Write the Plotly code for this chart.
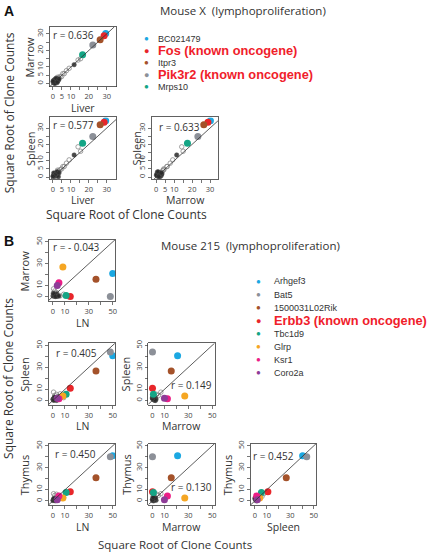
import plotly.graph_objects as go

W, H = 427, 553

# ---------------- Panel A data: Mouse X (square root of clone counts) ----------------
a_genes = ["BC021479", "Fos (known oncogene)", "Itpr3", "Pik3r2 (known oncogene)", "Mrps10"]
a_colors = ["#1BA8E2", "#E8262A", "#A4522A", "#8C9098", "#14A585"]
a_oncogene = [False, True, False, True, False]
a_liver = [29.4, 28.5, 26.3, 22.2, 16.5]
a_marrow = [30.2, 28.8, 26.5, 23.2, 17.4]
a_spleen = [34.5, 33.5, 32.0, 24.8, 20.7]
a_r = ["r = 0.636", "r = 0.577", "r = 0.633"]

# background clones (dark = filled, open = hollow circles)
a_dark_liver = [0.2, 0.5, 0.8, 1.0, 1.2, 1.5, 1.8, 2.0, 2.3, 2.6, 3.0, 0.4, 1.1, 0.0, 1.7, 2.4, 11.8, 3.4]
a_dark_marrow = [0.5, 1.2, 0.3, 1.8, 2.6, 0.9, 1.5, 2.2, 0.6, 2.9, 1.9, 2.0, 0.1, 1.4, 3.2, 1.0, 11.4, 2.8]
a_dark_spleen = [0.8, 0.3, 1.5, 2.2, 0.6, 1.8, 2.6, 1.0, 3.0, 1.4, 0.2, 2.5, 1.2, 0.5, 2.0, 3.3, 13.5, 2.6]
a_open_liver = [3.2, 4.0, 4.8, 6.3, 7.5, 9.0, 14.0, 15.4, 2.5, 5.5]
a_open_marrow = [3.6, 4.3, 4.2, 6.0, 7.8, 9.2, 14.2, 15.0, 3.8, 6.0]
a_open_spleen = [3.8, 4.6, 5.0, 6.5, 8.5, 10.5, 18.5, 15.8, 4.2, 6.4]

# ---------------- Panel B data: Mouse 215 ----------------
b_genes = ["Arhgef3", "Bat5", "1500031L02Rik", "Erbb3 (known oncogene)", "Tbc1d9", "Glrp", "Ksr1", "Coro2a"]
b_colors = ["#1BA8E2", "#8C9098", "#A4522A", "#E8262A", "#14A585", "#F5A623", "#EC1E86", "#8E3C97"]
b_oncogene = [False, False, False, True, False, False, False, False]
b_ln = [50.0, 48.0, 36.0, 14.5, 11.0, 8.3, 5.0, 3.6]
b_marrow = [21.0, 0.0, 15.7, 0.0, 0.8, 27.0, 12.5, 10.0]
b_spleen = [40.5, 44.0, 26.6, 11.0, 5.5, 4.0, 1.5, 2.0]
b_thymus = [41.0, 40.0, 21.0, 8.3, 7.5, 2.5, 4.5, 1.0]
b_r = ["r = - 0.043", "r = 0.405", "r = 0.149", "r = 0.450", "r = 0.130", "r = 0.452"]

b_dark_ln = [0.0, 0.5, 1.0, 1.5, 2.0, 2.5, 3.0, 0.3, 1.2, 3.5, 4.0, 0.8, 2.2, 5.0]
b_dark_marrow = [0.5, 1.5, 0.2, 2.0, 1.0, 0.0, 2.5, 3.0, 0.8, 1.2, 0.3, 2.2, 0.0, 0.5]
b_dark_spleen = [1.0, 0.2, 2.0, 0.5, 1.5, 2.5, 0.0, 1.2, 3.0, 0.8, 2.2, 0.4, 1.8, 3.5]
b_dark_thymus = [0.3, 1.5, 0.8, 2.0, 0.0, 1.2, 2.5, 0.5, 1.8, 3.0, 0.6, 2.2, 1.0, 3.3]
b_open_ln = [0.5, 9.0, 1.5, 6.0, 3.0]
b_open_marrow = [7.0, 2.0, 5.0, 0.5, 3.5]
b_open_spleen = [7.5, 2.5, 4.5, 6.0, 5.5]
b_open_thymus = [6.5, 3.0, 5.0, 4.0, 6.0]

# ---------------- layout helpers ----------------
def px_x(p):
    return p / W

def px_y(p):
    return 1 - p / H

A_TICKS = [0, 5, 10, 15, 20, 25, 30]
A_TEXT = ["0", "5", "10", "", "20", "", "30"]
B_TICKS = [0, 10, 20, 30, 40, 50]
B_TEXT = ["0", "10", "", "30", "", "50"]

AX_FONT = "Open Sans, Lato, sans-serif"
LEG_FONT = "Liberation Sans, Arial, sans-serif"

panels = [
    dict(x=a_liver, y=a_marrow, bgx=(a_dark_liver, a_open_liver), bgy=(a_dark_marrow, a_open_marrow),
         colors=a_colors, frame=(50, 117, 24, 84), xr=[-1.8, 35.4], yr=[-1.8, 34.2],
         tv=A_TICKS, tt=A_TEXT, xt="Liver", yt="Marrow", r=a_r[0], rp=(74, 32), off=(20, 21.5)),
    dict(x=a_liver, y=a_spleen, bgx=(a_dark_liver, a_open_liver), bgy=(a_dark_spleen, a_open_spleen),
         colors=a_colors, frame=(50, 117, 115, 177), xr=[-1.8, 35.4], yr=[-1.2, 36.5],
         tv=A_TICKS, tt=A_TEXT, xt="Liver", yt="Spleen", r=a_r[1], rp=(74, 123), off=(20, 21.5)),
    dict(x=a_marrow, y=a_spleen, bgx=(a_dark_marrow, a_open_marrow), bgy=(a_dark_spleen, a_open_spleen),
         colors=a_colors, frame=(153, 219, 115, 177), xr=[-2.2, 34.4], yr=[-1.2, 36.5],
         tv=A_TICKS, tt=A_TEXT, xt="Marrow", yt="Spleen", r=a_r[2], rp=(180, 125), off=(16, 21.5)),
    dict(x=b_ln, y=b_marrow, bgx=(b_dark_ln, b_open_ln), bgy=(b_dark_marrow, b_open_marrow),
         colors=b_colors, frame=(49, 116, 238, 300), xr=[-3.5, 52.3], yr=[-4.5, 52],
         tv=B_TICKS, tt=B_TEXT, xt="LN", yt="Marrow", r=b_r[0], rp=(77, 245), off=(24, 22)),
    dict(x=b_ln, y=b_spleen, bgx=(b_dark_ln, b_open_ln), bgy=(b_dark_spleen, b_open_spleen),
         colors=b_colors, frame=(49, 116, 342, 404), xr=[-3.5, 52.3], yr=[-4, 52],
         tv=B_TICKS, tt=B_TEXT, xt="LN", yt="Spleen", r=b_r[1], rp=(77, 352), off=(24, 21.5)),
    dict(x=b_marrow, y=b_spleen, bgx=(b_dark_marrow, b_open_marrow), bgy=(b_dark_spleen, b_open_spleen),
         colors=b_colors, frame=(149, 216, 342, 404), xr=[-3.5, 52.3], yr=[-4, 52],
         tv=B_TICKS, tt=B_TEXT, xt="Marrow", yt="Spleen", r=b_r[2], rp=(192, 384), off=(22, 21.5)),
    dict(x=b_ln, y=b_thymus, bgx=(b_dark_ln, b_open_ln), bgy=(b_dark_thymus, b_open_thymus),
         colors=b_colors, frame=(49, 116, 443, 505), xr=[-3.5, 52.3], yr=[-4, 52],
         tv=B_TICKS, tt=B_TEXT, xt="LN", yt="Thymus", r=b_r[3], rp=(76, 453), off=(24, 22)),
    dict(x=b_marrow, y=b_thymus, bgx=(b_dark_marrow, b_open_marrow), bgy=(b_dark_thymus, b_open_thymus),
         colors=b_colors, frame=(149, 216, 443, 505), xr=[-3.5, 52.3], yr=[-4, 52],
         tv=B_TICKS, tt=B_TEXT, xt="Marrow", yt="Thymus", r=b_r[4], rp=(192, 487), off=(22, 22)),
    dict(x=b_spleen, y=b_thymus, bgx=(b_dark_spleen, b_open_spleen), bgy=(b_dark_thymus, b_open_thymus),
         colors=b_colors, frame=(252, 318, 443, 505), xr=[-3.5, 52.3], yr=[-4, 52],
         tv=B_TICKS, tt=B_TEXT, xt="Spleen", yt="Thymus", r=b_r[5], rp=(275, 455), off=(23, 21.5)),
]

fig = go.Figure()
layout = dict(
    width=W, height=H, margin=dict(l=0, r=0, t=0, b=0),
    paper_bgcolor="white", plot_bgcolor="white", showlegend=False,
)
annotations = []
shapes = []


def label(text, x, y, size, angle=0, font=AX_FONT, color="#333", xanchor="center"):
    annotations.append(dict(text=text, x=px_x(x), y=px_y(y), xref="paper", yref="paper",
                            showarrow=False, textangle=angle, xanchor=xanchor,
                            yanchor="middle", borderpad=0,
                            font=dict(family=font, size=size, color=color)))


for i, p in enumerate(panels, start=1):
    xa = "x" if i == 1 else f"x{i}"
    ya = "y" if i == 1 else f"y{i}"
    l, r, t, b = p["frame"]
    common = dict(
        showgrid=False, zeroline=False, showline=True, mirror=True,
        linecolor="#3a3a3a", linewidth=0.8, ticks="outside", ticklen=3,
        tickwidth=0.7, tickcolor="#3a3a3a", tickvals=p["tv"], ticktext=p["tt"],
        tickfont=dict(family=AX_FONT, size=7.5, color="#444"),
    )
    layout["xaxis" if i == 1 else f"xaxis{i}"] = dict(
        common, domain=[px_x(l), px_x(r)], range=p["xr"], anchor=ya)
    layout["yaxis" if i == 1 else f"yaxis{i}"] = dict(
        common, domain=[px_y(b), px_y(t)], range=p["yr"], anchor=xa, tickangle=-90)

    lo = max(p["xr"][0], p["yr"][0])
    hi = min(p["xr"][1], p["yr"][1])
    shapes.append(dict(type="line", xref=xa, yref=ya, x0=lo, y0=lo, x1=hi, y1=hi,
                       line=dict(color="#333", width=0.8)))

    (dx_, ox_), (dy_, oy_) = p["bgx"], p["bgy"]
    fig.add_trace(go.Scatter(x=ox_, y=oy_, mode="markers", xaxis=xa, yaxis=ya,
                             marker=dict(symbol="circle-open", size=4.5, color="#8a8a8a",
                                         line=dict(width=0.8))))
    fig.add_trace(go.Scatter(x=dx_, y=dy_, mode="markers", xaxis=xa, yaxis=ya,
                             marker=dict(size=4.5, color="rgba(40,40,40,0.85)",
                                         line=dict(width=0.5, color="#555"))))
    fig.add_trace(go.Scatter(x=p["x"], y=p["y"], mode="markers", xaxis=xa, yaxis=ya,
                             marker=dict(size=7, color=p["colors"])))

    offy, offx = p["off"]
    label(p["yt"], l - offy, (t + b) / 2, 11, angle=-90)
    label(p["xt"], (l + r) / 2, b + offx, 10.5)
    label(p["r"], p["rp"][0], p["rp"][1], 10)

label("<b>A</b>", 9, 8, 14, font=LEG_FONT, color="#111")
label("<b>B</b>", 9, 239, 14, font=LEG_FONT, color="#111")
label("Mouse X  (lymphoproliferation)", 244, 8, 11.5)
label("Mouse 215  (lymphoproliferation)", 252, 244, 11.5)
label("Square Root of Clone Counts", 9, 110, 12, angle=-90)
label("Square Root of Clone Counts", 127, 213, 12)
label("Square Root of Clone Counts", 9, 377, 12, angle=-90)
label("Square Root of Clone Counts", 176, 544, 11.5)


def legend(genes, colors, onco, x_dot, x_text, y0, step):
    for k, (g, c, o) in enumerate(zip(genes, colors, onco)):
        yy = y0 + k * step
        label("●", x_dot, yy, 8 if not o else 9, font=LEG_FONT, color=c)
        if o:
            label(f"<b>{g}</b>", x_text, yy, 12.8, font=LEG_FONT, color="#F0202A", xanchor="left")
        else:
            label(g, x_text, yy, 9, font=LEG_FONT, color="#333", xanchor="left")


legend(a_genes, a_colors, a_oncogene, 147, 158, 36, 12)
legend(b_genes, b_colors, b_oncogene, 260, 274, 280, 13.1)

layout["annotations"] = annotations
layout["shapes"] = shapes
fig.update_layout(**layout)
fig.write_html("out.html", config={"displayModeBar": False, "staticPlot": True},
               post_script="document.body.style.margin='0';document.body.style.overflow='hidden';")
